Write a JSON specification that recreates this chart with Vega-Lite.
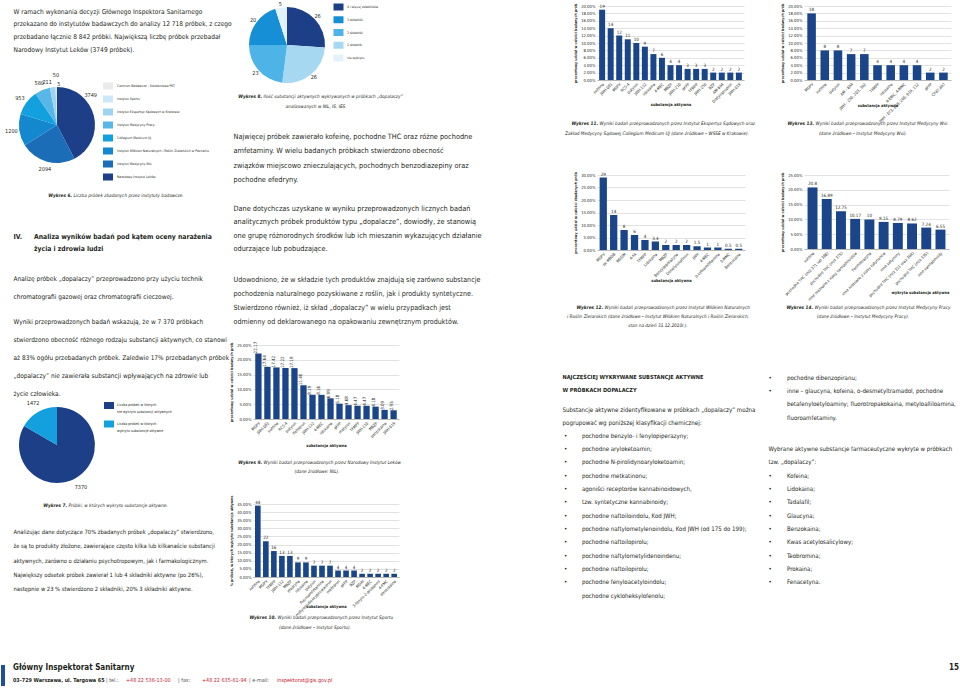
{
"$schema":"https://vega.github.io/schema/vega-lite/v6.json",
"padding":0,
"background":"white",
"columns":8,
"align":"each",
"bounds":"flush",
"spacing":0,
"resolve":{"scale":{"color":"independent","x":"independent","y":"independent","theta":"independent"},"legend":{"color":"independent"}},
"config":{
 "view":{"stroke":null},
 "font":"'DejaVu Sans Condensed', 'Liberation Sans Narrow', sans-serif",
 "text":{"color":"#231f20"},
 "axis":{"labelColor":"#231f20","titleColor":"#231f20","gridColor":"#c4c4c4","gridWidth":0.5,"domainColor":"#8c8c8c","domainWidth":0.5,"ticks":false,"labelFontSize":4.2,"titleFontSize":4,"titleFontWeight":"bold","labelPadding":2},
 "axisX":{"labelFontSize":4},
 "axisY":{"titleFontSize":3.6,"titlePadding":3}
},
"concat":[
{"width":12,"height":6,"data":{"values":[]},"mark":"point","encoding":{}},
{"width":220,"height":6,"data":{"values":[]},"mark":"point","encoding":{}},
{"width":20,"height":6,"data":{"values":[]},"mark":"point","encoding":{}},
{"width":309,"height":6,"data":{"values":[]},"mark":"point","encoding":{}},
{"width":35,"height":6,"data":{"values":[]},"mark":"point","encoding":{}},
{"width":171,"height":6,"data":{"values":[]},"mark":"point","encoding":{}},
{"width":36,"height":6,"data":{"values":[]},"mark":"point","encoding":{}},
{"width":157,"height":6,"data":{"values":[]},"mark":"point","encoding":{}},

{"width":1,"height":78,"data":{"values":[]},"mark":"point","encoding":{}},
{"width":1,"height":1,"data":{"values":[{"t":"W ramach wykonania decyzji Głównego Inspektora Sanitarnego\nprzekazano do instytutów badawczych do analizy 12 718 próbek, z czego\nprzebadano łącznie 8 842 próbki. Największą liczbę próbek przebadał\nNarodowy Instytut Leków (3749 próbek)."}]},
 "mark":{"type":"text","align":"left","baseline":"top","lineBreak":"\n","lineHeight":12.7,"fontSize":6.6,"dy":2.3},
 "encoding":{"text":{"field":"t"}}},
{"width":1,"height":1,"data":{"values":[]},"mark":"point","encoding":{}},
{"width":68,"height":78,
 "data":{"values":[{"k":"4 i więcej składników","n":26,"o":1},{"k":"1 składnik","n":26,"o":2},{"k":"2 składniki","n":23,"o":3},{"k":"3 składniki","n":20,"o":4},{"k":"nie wykryto","n":5,"o":5}]},
 "layer":[
  {"mark":{"type":"arc","radius":38},"encoding":{"theta":{"field":"n","type":"quantitative","stack":true},"order":{"field":"o","type":"quantitative"},"color":{"field":"k","type":"nominal","scale":{"domain":["4 i więcej składników","3 składniki","2 składniki","1 składnik","nie wykryto"],"range":["#1d3f88","#178fd6","#4eb3e6","#a7d8f2","#e3f2fa"]},"legend":null}}},
  {"mark":{"type":"text","radius":42,"fontSize":5.5},"encoding":{"theta":{"field":"n","type":"quantitative","stack":true},"order":{"field":"o","type":"quantitative"},"text":{"field":"n","type":"quantitative"}}},
  {"mark":{"type":"point","shape":"M-1,-0.7H1V0.7H-1Z","size":100,"filled":true,"opacity":1,"xOffset":51.5},"encoding":{"y":{"field":"k","type":"nominal","scale":{"type":"point","padding":0,"domain":["4 i więcej składników","3 składniki","2 składniki","1 składnik","nie wykryto"],"range":[1,52]},"axis":null},"color":{"field":"k","type":"nominal","legend":null}}},
  {"mark":{"type":"text","align":"left","baseline":"middle","fontSize":3.3,"dx":60},"encoding":{"y":{"field":"k","type":"nominal","axis":null},"text":{"field":"k"}}}
 ]},
{"width":1,"height":1,"data":{"values":[]},"mark":"point","encoding":{}},
{"width":147,"height":74,
 "data":{"values":[{"s":"kofeina","v":19},{"s":"JWH-081","v":14},{"s":"MDPV","v":12},{"s":"RCS-4","v":11},{"s":"butylon","v":10},{"s":"JWH-122","v":9},{"s":"lidokaina","v":7},{"s":"4-MEC","v":6},{"s":"MBZP","v":4},{"s":"JWH-210","v":4},{"s":"pFPP","v":3},{"s":"TFMPP","v":3},{"s":"JWH-250","v":3},{"s":"BZP","v":2},{"s":"AM-694","v":2},{"s":"Dietylopropion","v":2},{"s":"JWH-019","v":2}]},
 "encoding":{
  "x":{"field":"s","type":"nominal","sort":null,"title":"substancja aktywna","scale":{"paddingInner":0.3,"paddingOuter":0.25},"axis":{"labelAngle":-45,"titleY":22}},
  "y":{"field":"v","type":"quantitative","title":"procentowy udział w całości badanych prób","scale":{"domain":[0,20]},"axis":{"values":[0,2,4,6,8,10,12,14,16,18,20],"labelExpr":"format(datum.value,'.2f')+'%'","domain":false}}},
 "layer":[{"mark":{"type":"bar","color":"#1b4589"}},{"mark":{"type":"text","baseline":"bottom","dy":-1,"fontSize":4.5},"encoding":{"text":{"field":"v","type":"quantitative"}}}]},
{"width":1,"height":1,"data":{"values":[]},"mark":"point","encoding":{}},
{"width":147,"height":74,
 "data":{"values":[{"s":"MDPV","v":18},{"s":"kofeina","v":8},{"s":"butylon","v":8},{"s":"AM - 694","v":7},{"s":"JWH - 250, 203, 302","v":7},{"s":"TFMPP","v":4},{"s":"lidokaina","v":4},{"s":"4-EMC, 4-MMC","v":4},{"s":"JWH - 073, 018, 200, 019, 122","v":4},{"s":"pFPP","v":2},{"s":"CP47,497","v":2}]},
 "encoding":{
  "x":{"field":"s","type":"nominal","sort":null,"title":"substancja aktywna","scale":{"paddingInner":0.35,"paddingOuter":0.25},"axis":{"labelAngle":-45,"titleY":23}},
  "y":{"field":"v","type":"quantitative","title":"procentowy udział w całości badanych prób","scale":{"domain":[0,20]},"axis":{"values":[0,2,4,6,8,10,12,14,16,18,20],"labelExpr":"format(datum.value,'.2f')+'%'","domain":false}}},
 "layer":[{"mark":{"type":"bar","color":"#1b4589"}},{"mark":{"type":"text","baseline":"bottom","dy":-1,"fontSize":4.5},"encoding":{"text":{"field":"v","type":"quantitative"}}}]},

{"width":1,"height":91,"data":{"values":[]},"mark":"point","encoding":{}},
{"width":88,"height":82,
 "data":{"values":[{"k":"Narodowy Instytut Leków","n":3749,"o":1},{"k":"Instytut Medycyny Wsi","n":2094,"o":2},{"k":"Instytut Włókien Naturalnych i Roślin Zielarskich w Poznaniu","n":1200,"o":3},{"k":"Collegium Medicum UJ","n":953,"o":4},{"k":"Instytut Medycyny Pracy","n":580,"o":5},{"k":"Instytut Ekspertyz Sądowych w Krakowie","n":211,"o":6},{"k":"Instytut Sportu","n":50,"o":7},{"k":"Centrum Badawczo - Szkoleniowe PKT","n":5,"o":8}]},
 "layer":[
  {"mark":{"type":"arc","radius":38},"encoding":{"theta":{"field":"n","type":"quantitative","stack":true},"order":{"field":"o","type":"quantitative"},"color":{"field":"k","type":"nominal","scale":{"domain":["Centrum Badawczo - Szkoleniowe PKT","Instytut Sportu","Instytut Ekspertyz Sądowych w Krakowie","Instytut Medycyny Pracy","Collegium Medicum UJ","Instytut Włókien Naturalnych i Roślin Zielarskich w Poznaniu","Instytut Medycyny Wsi","Narodowy Instytut Leków"],"range":["#ebebeb","#cde8f6","#9dd4f1","#58b7e6","#13a0de","#1488cf","#1a6db6","#1d3f88"]},"legend":null}}},
  {"mark":{"type":"text","radius":46,"fontSize":5.5},"encoding":{"theta":{"field":"n","type":"quantitative","stack":true},"order":{"field":"o","type":"quantitative"},"text":{"condition":{"test":"datum.o>=2 && datum.o<=5","field":"n","type":"quantitative"},"value":""}}},
  {"mark":{"type":"text","radius":46,"fontSize":5.5,"dx":-11,"dy":-19},"encoding":{"theta":{"field":"n","type":"quantitative","stack":true},"order":{"field":"o","type":"quantitative"},"text":{"condition":{"test":"datum.o==1","field":"n","type":"quantitative"},"value":""}}},
  {"mark":{"type":"text","radius":43,"fontSize":5.5,"dx":-5},"encoding":{"theta":{"field":"n","type":"quantitative","stack":true},"order":{"field":"o","type":"quantitative"},"text":{"condition":{"test":"datum.o==6","field":"n","type":"quantitative"},"value":""}}},
  {"mark":{"type":"text","radius":50,"fontSize":5.5},"encoding":{"theta":{"field":"n","type":"quantitative","stack":true},"order":{"field":"o","type":"quantitative"},"text":{"condition":{"test":"datum.o==7","field":"n","type":"quantitative"},"value":""}}},
  {"mark":{"type":"text","radius":41,"fontSize":5.5,"dx":2},"encoding":{"theta":{"field":"n","type":"quantitative","stack":true},"order":{"field":"o","type":"quantitative"},"text":{"condition":{"test":"datum.o==8","field":"n","type":"quantitative"},"value":""}}},
  {"mark":{"type":"point","shape":"M-1,-0.7H1V0.7H-1Z","size":100,"filled":true,"opacity":1,"xOffset":51},"encoding":{"y":{"field":"k","type":"nominal","scale":{"type":"point","padding":0,"domain":["Centrum Badawczo - Szkoleniowe PKT","Instytut Sportu","Instytut Ekspertyz Sądowych w Krakowie","Instytut Medycyny Pracy","Collegium Medicum UJ","Instytut Włókien Naturalnych i Roślin Zielarskich w Poznaniu","Instytut Medycyny Wsi","Narodowy Instytut Leków"],"range":[2,93]},"axis":null},"color":{"field":"k","type":"nominal","legend":null}}},
  {"mark":{"type":"text","align":"left","baseline":"middle","fontSize":3.4,"dx":60},"encoding":{"y":{"field":"k","type":"nominal","axis":null},"text":{"field":"k"}}}
 ]},
{"width":1,"height":1,
 "layer":[
  {"data":{"values":[{"t":"Najwięcej próbek zawierało kofeinę, pochodne THC oraz różne pochodne\namfetaminy. W wielu badanych próbkach stwierdzono obecność\nzwiązków miejscowo znieczulających, pochodnych benzodiazepiny oraz\npochodne efedryny."}]},"mark":{"type":"text","align":"left","baseline":"top","lineBreak":"\n","lineHeight":14.3,"fontSize":7.3,"dy":48.5},"encoding":{"text":{"field":"t"}}},
  {"data":{"values":[{"t":"Dane dotychczas uzyskane w wyniku przeprowadzonych licznych badań\nanalitycznych próbek produktów typu „dopalacze”, dowiodły, że stanowią\none grupę różnorodnych środków lub ich mieszanin wykazujących działanie\nodurzające lub pobudzające."}]},"mark":{"type":"text","align":"left","baseline":"top","lineBreak":"\n","lineHeight":13.3,"fontSize":7.3,"dy":120.5},"encoding":{"text":{"field":"t"}}},
  {"data":{"values":[{"t":"Udowodniono, że w składzie tych produktów znajdują się zarówno substancje\npochodzenia naturalnego pozyskiwane z roślin, jak i produkty syntetyczne.\nStwierdzono również, iż skład „dopalaczy” w wielu przypadkach jest\nodmienny od deklarowanego na opakowaniu zewnętrznym produktów."}]},"mark":{"type":"text","align":"left","baseline":"top","lineBreak":"\n","lineHeight":14,"fontSize":7.1,"dy":191.5},"encoding":{"text":{"field":"t"}}}
 ]},
{"width":1,"height":1,
 "layer":[
  {"data":{"values":[{"t":"Wykres 8."}]},"mark":{"type":"text","align":"right","baseline":"top","fontSize":4.7,"fontStyle":"italic","fontWeight":"bold","dx":8.5,"dy":9},"encoding":{"text":{"field":"t"}}},
  {"data":{"values":[{"t":"Ilość substancji aktywnych wykrywanych w próbkach „dopalaczy”"}]},"mark":{"type":"text","align":"left","baseline":"top","fontSize":4.7,"fontStyle":"italic","dx":10,"dy":9},"encoding":{"text":{"field":"t"}}},
  {"data":{"values":[{"t":"analizowanych w NIL, IS, IES."}]},"mark":{"type":"text","align":"center","baseline":"top","fontSize":4.7,"fontStyle":"italic","dx":62.5,"dy":19},"encoding":{"text":{"field":"t"}}}
 ]},
{"width":1,"height":1,"data":{"values":[]},"mark":"point","encoding":{}},
{"width":1,"height":1,
 "layer":[
  {"data":{"values":[{"t":"Wykres 11."}]},"mark":{"type":"text","align":"right","baseline":"top","fontSize":4.7,"fontStyle":"italic","fontWeight":"bold","dx":0.5,"dy":36},"encoding":{"text":{"field":"t"}}},
  {"data":{"values":[{"t":"Wyniki badań przeprowadzonych przez Instytut Ekspertyz Sądowych oraz"}]},"mark":{"type":"text","align":"left","baseline":"top","fontSize":4.7,"fontStyle":"italic","dx":2,"dy":36},"encoding":{"text":{"field":"t"}}},
  {"data":{"values":[{"t":"Zakład Medycyny Sądowej Collegium Medicum UJ (dane źródłowe – WSSE w Krakowie)."}]},"mark":{"type":"text","align":"center","baseline":"top","fontSize":4.7,"fontStyle":"italic","dx":59.5,"dy":46},"encoding":{"text":{"field":"t"}}}
 ]},
{"width":1,"height":1,"data":{"values":[]},"mark":"point","encoding":{}},
{"width":1,"height":1,
 "layer":[
  {"data":{"values":[{"t":"Wykres 13."}]},"mark":{"type":"text","align":"right","baseline":"top","fontSize":4.7,"fontStyle":"italic","fontWeight":"bold","dx":9.5,"dy":36},"encoding":{"text":{"field":"t"}}},
  {"data":{"values":[{"t":"Wyniki badań przeprowadzonych przez Instytut Medycyny Wsi"}]},"mark":{"type":"text","align":"left","baseline":"top","fontSize":4.7,"fontStyle":"italic","dx":11,"dy":36},"encoding":{"text":{"field":"t"}}},
  {"data":{"values":[{"t":"(dane źródłowe – Instytut Medycyny Wsi)."}]},"mark":{"type":"text","align":"center","baseline":"top","fontSize":4.7,"fontStyle":"italic","dx":58.5,"dy":46},"encoding":{"text":{"field":"t"}}}
 ]},

{"width":1,"height":75,"data":{"values":[]},"mark":"point","encoding":{}},
{"width":1,"height":1,
 "layer":[
  {"data":{"values":[{"t":"Wykres 6."}]},"mark":{"type":"text","align":"right","baseline":"top","fontSize":4.7,"fontStyle":"italic","fontWeight":"bold","dx":58.5,"dy":17},"encoding":{"text":{"field":"t"}}},
  {"data":{"values":[{"t":"Liczba próbek zbadanych przez instytuty badawcze."}]},"mark":{"type":"text","align":"left","baseline":"top","fontSize":4.7,"fontStyle":"italic","dx":60,"dy":17},"encoding":{"text":{"field":"t"}}},
  {"data":{"values":[{"t":"IV."}]},"mark":{"type":"text","align":"left","baseline":"top","fontSize":6.8,"fontWeight":"bold","dy":58},"encoding":{"text":{"field":"t"}}},
  {"data":{"values":[{"t":"Analiza wyników badań pod kątem oceny narażenia\nżycia i zdrowia ludzi"}]},"mark":{"type":"text","align":"left","baseline":"top","fontSize":6.8,"fontWeight":"bold","lineBreak":"\n","lineHeight":12.5,"dx":20.5,"dy":58},"encoding":{"text":{"field":"t"}}},
  {"data":{"values":[{"t":"Analizę próbek „dopalaczy” przeprowadzono przy użyciu technik\nchromatografii gazowej oraz chromatografii cieczowej."}]},"mark":{"type":"text","align":"left","baseline":"top","lineBreak":"\n","lineHeight":18,"fontSize":6.5,"dy":100.2},"encoding":{"text":{"field":"t"}}},
  {"data":{"values":[{"t":"Wyniki przeprowadzonych badań wskazują, że w 7 370 próbkach\nstwierdzono obecność różnego rodzaju substancji aktywnych, co stanowi\naż 83% ogółu przebadanych próbek. Zaledwie 17% przebadanych próbek\n„dopalaczy” nie zawierała substancji wpływających na zdrowie lub\nżycie człowieka."}]},"mark":{"type":"text","align":"left","baseline":"top","lineBreak":"\n","lineHeight":18,"fontSize":6.5,"dy":143.2},"encoding":{"text":{"field":"t"}}}
 ]},
{"width":1,"height":1,"data":{"values":[]},"mark":"point","encoding":{}},
{"width":1,"height":1,"data":{"values":[]},"mark":"point","encoding":{}},
{"width":1,"height":1,"data":{"values":[]},"mark":"point","encoding":{}},
{"width":148,"height":75,
 "data":{"values":[{"s":"MDPV","v":29},{"s":"bk-MBDB","v":14},{"s":"MDDM","v":8},{"s":"4-FA","v":6},{"s":"TFMPP","v":4},{"s":"Lidokaina","v":3.4},{"s":"MBZP","v":2},{"s":"Benzylpiperazyna","v":2},{"s":"Dimetylokatinon","v":2},{"s":"JWH","v":1.5},{"s":"4-MEC","v":1},{"s":"b-ketoamfetamina","v":1},{"s":"3-MMC","v":0.5},{"s":"Benzokaina","v":0.5}]},
 "encoding":{
  "x":{"field":"s","type":"nominal","sort":null,"title":"substancja aktywna","scale":{"paddingInner":0.3,"paddingOuter":0.25},"axis":{"labelAngle":-45,"titleY":28}},
  "y":{"field":"v","type":"quantitative","title":"procentowy udział w całości zbadanych prób","scale":{"domain":[0,30]},"axis":{"values":[0,5,10,15,20,25,30],"labelExpr":"format(datum.value,'.2f')+'%'","domain":false}}},
 "layer":[{"mark":{"type":"bar","color":"#1b4589"}},{"mark":{"type":"text","baseline":"bottom","dy":-1,"fontSize":4.5},"encoding":{"text":{"field":"v","type":"quantitative"}}}]},
{"width":1,"height":1,"data":{"values":[]},"mark":"point","encoding":{}},
{"width":145,"height":74,
 "data":{"values":[{"s":"kofeina","v":20.8},{"s":"pochodne THC (m/z 371 lub 386)","v":16.89},{"s":"pochodne THC (m/z 375)","v":12.75},{"s":"inne nieznane z klasy kannabinoidów","v":10.17},{"s":"Fenmetrazyna","v":10},{"s":"inne nieznane z klasy katynonów","v":9.15},{"s":"inne katynony","v":8.79},{"s":"pochodne THC (m/z 321 oraz 304)","v":8.62},{"s":"pochodne THC (m/z 335)","v":7.24},{"s":"inne kannabinoidy","v":6.55}]},
 "encoding":{
  "x":{"field":"s","type":"nominal","sort":null,"title":"wykryta substancja aktywna","scale":{"paddingInner":0.3,"paddingOuter":0.25},"axis":{"labelAngle":-45,"titleY":41,"titleAnchor":"end"}},
  "y":{"field":"v","type":"quantitative","title":"procentowy udział w całości badanych prób","scale":{"domain":[0,25]},"axis":{"values":[0,5,10,15,20,25],"labelExpr":"format(datum.value,'.2f')+'%'","domain":false}}},
 "layer":[{"mark":{"type":"bar","color":"#1b4589"}},{"mark":{"type":"text","baseline":"bottom","dy":-1,"fontSize":4.5},"encoding":{"text":{"field":"v","type":"quantitative"}}}]},

{"width":1,"height":95,"data":{"values":[]},"mark":"point","encoding":{}},
{"width":1,"height":1,"data":{"values":[]},"mark":"point","encoding":{}},
{"width":1,"height":1,"data":{"values":[]},"mark":"point","encoding":{}},
{"width":1,"height":1,"data":{"values":[]},"mark":"point","encoding":{}},
{"width":1,"height":1,
 "layer":[
  {"data":{"values":[{"t":"NAJCZĘŚCIEJ WYKRYWANE SUBSTANCJE AKTYWNE\nW PRÓBKACH DOPALACZY"}]},"mark":{"type":"text","align":"left","baseline":"top","fontSize":5.6,"fontWeight":"bold","lineBreak":"\n","lineHeight":13.3,"dy":124.5},"encoding":{"text":{"field":"t"}}},
  {"data":{"values":[{"t":"Substancje aktywne zidentyfikowane w próbkach „dopalaczy” można\npogrupować wg poniższej klasyfikacji chemicznej:"}]},"mark":{"type":"text","align":"left","baseline":"top","fontSize":6.2,"lineBreak":"\n","lineHeight":13.5,"dy":156.3},"encoding":{"text":{"field":"t"}}},
  {"data":{"values":[{"t":"•\n•\n•\n•\n•\n \n•\n•\n•\n•\n•\n•\n•"}]},"mark":{"type":"text","align":"left","baseline":"top","fontSize":6.2,"lineBreak":"\n","lineHeight":13.33,"dx":1.5,"dy":182.3},"encoding":{"text":{"field":"t"}}},
  {"data":{"values":[{"t":"pochodne benzylo- i fenylopiperazyny;\npochodne aryloketoamin;\npochodne N-pirolidynoaryloketoamin;\npochodne metkatinonu;\nagoniści receptorów kannabinoidowych,\ntzw. syntetyczne kannabinoidy;\npochodne naftoiloindolu, Kod JWH;\npochodne naftylometylenoindolu, Kod JWH (od 175 do 199);\npochodne naftoilopirolu;\npochodne naftylometylidenoindenu;\npochodne naftoilopirolu;\npochodne fenyloacetyloindolu;\npochodne cykloheksylofenolu;"}]},"mark":{"type":"text","align":"left","baseline":"top","fontSize":6.1,"lineBreak":"\n","lineHeight":13.33,"dx":19.5,"dy":182.3},"encoding":{"text":{"field":"t"}}}
 ]},
{"width":1,"height":1,
 "layer":[
  {"data":{"values":[{"t":"Wykres 12."}]},"mark":{"type":"text","align":"right","baseline":"top","fontSize":4.7,"fontStyle":"italic","fontWeight":"bold","dx":5.5,"dy":54},"encoding":{"text":{"field":"t"}}},
  {"data":{"values":[{"t":"Wyniki badań przeprowadzonych przez Instytut Włókien Naturalnych"}]},"mark":{"type":"text","align":"left","baseline":"top","fontSize":4.7,"fontStyle":"italic","dx":7,"dy":54},"encoding":{"text":{"field":"t"}}},
  {"data":{"values":[{"t":"i Roślin Zielarskich (dane źródłowe – Instytut Włókien Naturalnych i Roślin Zielarskich,\nstan na dzień 31.12.2010r.)."}]},"mark":{"type":"text","align":"center","baseline":"top","fontSize":4.7,"fontStyle":"italic","lineBreak":"\n","lineHeight":9,"dx":60.5,"dy":63},"encoding":{"text":{"field":"t"}}}
 ]},
{"width":1,"height":1,
 "layer":[
  {"data":{"values":[{"t":"•\n•"}]},"mark":{"type":"text","align":"left","baseline":"top","fontSize":6.1,"lineBreak":"\n","lineHeight":13.3,"dy":124.4},"encoding":{"text":{"field":"t"}}},
  {"data":{"values":[{"t":"pochodne dibenzopiranu;\ninne – glaucyna, kofeina, o-desmetyltramadol, pochodne\nbetafenyloetyloaminy; fluorotropakokaina, metyloalliloamina,\nfluoroamfetaminy."}]},"mark":{"type":"text","align":"left","baseline":"top","fontSize":6.1,"lineBreak":"\n","lineHeight":13.3,"dx":18.5,"dy":124.4},"encoding":{"text":{"field":"t"}}},
  {"data":{"values":[{"t":"Wybrane aktywne substancje farmaceutyczne wykryte w próbkach\ntzw. „dopalaczy”:"}]},"mark":{"type":"text","align":"left","baseline":"top","fontSize":6.1,"lineBreak":"\n","lineHeight":13.3,"dy":195.4},"encoding":{"text":{"field":"t"}}},
  {"data":{"values":[{"t":"•\n•\n•\n•\n•\n•\n•\n•\n•"}]},"mark":{"type":"text","align":"left","baseline":"top","fontSize":6.1,"lineBreak":"\n","lineHeight":13.3,"dy":222.4},"encoding":{"text":{"field":"t"}}},
  {"data":{"values":[{"t":"Kofeina;\nLidokaina;\nTadalafil;\nGlaucyna;\nBenzokaina;\nKwas acetylosalicylowy;\nTeobromina;\nProkaina;\nFenacetyna."}]},"mark":{"type":"text","align":"left","baseline":"top","fontSize":6.1,"lineBreak":"\n","lineHeight":13.3,"dx":18.5,"dy":222.4},"encoding":{"text":{"field":"t"}}}
 ]},
{"width":1,"height":1,
 "layer":[
  {"data":{"values":[{"t":"Wykres 14."}]},"mark":{"type":"text","align":"right","baseline":"top","fontSize":4.7,"fontStyle":"italic","fontWeight":"bold","dx":8.5,"dy":54},"encoding":{"text":{"field":"t"}}},
  {"data":{"values":[{"t":"Wyniki badań przeprowadzonych przez Instytut Medycyny Pracy"}]},"mark":{"type":"text","align":"left","baseline":"top","fontSize":4.7,"fontStyle":"italic","dx":10,"dy":54},"encoding":{"text":{"field":"t"}}},
  {"data":{"values":[{"t":"(dane źródłowe – Instytut Medycyny Pracy)."}]},"mark":{"type":"text","align":"center","baseline":"top","fontSize":4.7,"fontStyle":"italic","dx":58.5,"dy":63},"encoding":{"text":{"field":"t"}}}
 ]},

{"width":1,"height":74,"data":{"values":[]},"mark":"point","encoding":{}},
{"width":1,"height":1,"data":{"values":[]},"mark":"point","encoding":{}},
{"width":1,"height":1,"data":{"values":[]},"mark":"point","encoding":{}},
{"width":146,"height":74,
 "data":{"values":[{"s":"MDPV","v":22.17},{"s":"JWH-081","v":17.64},{"s":"kofeina","v":17.42},{"s":"RCS-4","v":17.22},{"s":"butylon","v":17.19},{"s":"flefedron","v":11.40},{"s":"JWH-122","v":8.19},{"s":"4-MEC","v":8.16},{"s":"lidokaina","v":6.99},{"s":"pFPP","v":5.18},{"s":"metylon","v":4.68},{"s":"TFMPP","v":4.47},{"s":"JWH-210","v":4.47},{"s":"MBZP","v":4.18},{"s":"benzokaina","v":3.09},{"s":"JWH-019","v":2.95}]},
 "encoding":{
  "x":{"field":"s","type":"nominal","sort":null,"title":"substancja aktywna","scale":{"paddingInner":0.3,"paddingOuter":0.25},"axis":{"labelAngle":-45,"titleY":24}},
  "y":{"field":"v","type":"quantitative","title":"procentowy udział w całości badanych prób","scale":{"domain":[0,25]},"axis":{"values":[0,5,10,15,20,25],"labelExpr":"format(datum.value,'.2f')+'%'","domain":false}}},
 "layer":[{"mark":{"type":"bar","color":"#1b4589"}},{"mark":{"type":"text","align":"left","baseline":"middle","angle":270,"dy":-2,"fontSize":4.5},"encoding":{"text":{"field":"v","type":"quantitative","format":".2f"}}}]},
{"width":1,"height":1,"data":{"values":[]},"mark":"point","encoding":{}},
{"width":1,"height":1,"data":{"values":[]},"mark":"point","encoding":{}},
{"width":1,"height":1,"data":{"values":[]},"mark":"point","encoding":{}},
{"width":1,"height":1,"data":{"values":[]},"mark":"point","encoding":{}},

{"width":1,"height":85,"data":{"values":[]},"mark":"point","encoding":{}},
{"width":88,"height":52,
 "data":{"values":[{"k":"Liczba próbek w których\nnie wykryto substancji aktywnych","n":7370,"o":1},{"k":"Liczba próbek w których\nwykryto substancje aktywne","n":1472,"o":2}]},
 "layer":[
  {"mark":{"type":"arc","radius":38},"encoding":{"theta":{"field":"n","type":"quantitative","stack":true},"order":{"field":"o","type":"quantitative"},"color":{"field":"k","type":"nominal","scale":{"domain":["Liczba próbek w których\nnie wykryto substancji aktywnych","Liczba próbek w których\nwykryto substancje aktywne"],"range":["#1d3f88","#14a0de"]},"legend":null}}},
  {"mark":{"type":"text","radius":48,"fontSize":5.5},"encoding":{"theta":{"field":"n","type":"quantitative","stack":true},"order":{"field":"o","type":"quantitative"},"text":{"field":"n","type":"quantitative"}}},
  {"mark":{"type":"point","shape":"M-1,-0.7H1V0.7H-1Z","size":100,"filled":true,"opacity":1,"xOffset":52},"encoding":{"y":{"field":"k","type":"nominal","scale":{"type":"point","padding":0,"domain":["Liczba próbek w których\nnie wykryto substancji aktywnych","Liczba próbek w których\nwykryto substancje aktywne"],"range":[-13.5,5]},"axis":null},"color":{"field":"k","type":"nominal","legend":null}}},
  {"mark":{"type":"text","align":"left","baseline":"top","fontSize":3.6,"lineBreak":"\n","lineHeight":7,"dx":60,"dy":-2.5},"encoding":{"y":{"field":"k","type":"nominal","axis":null},"text":{"field":"k"}}}
 ]},
{"width":1,"height":1,"data":{"values":[]},"mark":"point","encoding":{}},
{"width":1,"height":1,
 "layer":[
  {"data":{"values":[{"t":"Wykres 9."}]},"mark":{"type":"text","align":"right","baseline":"top","fontSize":4.7,"fontStyle":"italic","fontWeight":"bold","dx":8.5,"dy":40},"encoding":{"text":{"field":"t"}}},
  {"data":{"values":[{"t":"Wyniki badań przeprowadzonych przez Narodowy Instytut Leków"}]},"mark":{"type":"text","align":"left","baseline":"top","fontSize":4.7,"fontStyle":"italic","dx":10,"dy":40},"encoding":{"text":{"field":"t"}}},
  {"data":{"values":[{"t":"(dane źródłowe: NIL)."}]},"mark":{"type":"text","align":"center","baseline":"top","fontSize":4.7,"fontStyle":"italic","dx":63.5,"dy":49},"encoding":{"text":{"field":"t"}}}
 ]},
{"width":1,"height":1,"data":{"values":[]},"mark":"point","encoding":{}},
{"width":1,"height":1,"data":{"values":[]},"mark":"point","encoding":{}},
{"width":1,"height":1,"data":{"values":[]},"mark":"point","encoding":{}},
{"width":1,"height":1,"data":{"values":[]},"mark":"point","encoding":{}},

{"width":1,"height":73,"data":{"values":[]},"mark":"point","encoding":{}},
{"width":1,"height":1,
 "layer":[
  {"data":{"values":[{"t":"Wykres 7."}]},"mark":{"type":"text","align":"right","baseline":"top","fontSize":4.7,"fontStyle":"italic","fontWeight":"bold","dx":53.5,"dy":-2},"encoding":{"text":{"field":"t"}}},
  {"data":{"values":[{"t":"Próbki, w których wykryto substancje aktywne."}]},"mark":{"type":"text","align":"left","baseline":"top","fontSize":4.7,"fontStyle":"italic","dx":55,"dy":-2},"encoding":{"text":{"field":"t"}}},
  {"data":{"values":[{"t":"Analizując dane dotyczące 70% zbadanych próbek „dopalaczy” stwierdzono,\nże są to produkty złożone, zawierające często kilka lub kilkanaście substancji\naktywnych, zarówno o działaniu psychotropowym, jak i farmakologicznym.\nNajwiększy odsetek próbek zawierał 1 lub 4 składniki aktywne (po 26%),\nnastępnie w 23 % stwierdzono 2 składniki, 20% 3 składniki aktywne."}]},"mark":{"type":"text","align":"left","baseline":"top","lineBreak":"\n","lineHeight":14.25,"fontSize":5.8,"dy":24.5},"encoding":{"text":{"field":"t"}}}
 ]},
{"width":1,"height":1,"data":{"values":[]},"mark":"point","encoding":{}},
{"width":146,"height":73,
 "data":{"values":[{"s":"kofeina","v":44},{"s":"MDPV","v":22},{"s":"TFMPP","v":16},{"s":"JWH-122","v":13},{"s":"MBZP","v":13},{"s":"efedryna","v":9},{"s":"lidokaina","v":9},{"s":"butylon","v":7},{"s":"fluoroamfetamina","v":7},{"s":"metylenodioksypirowaleron","v":7},{"s":"mefedron","v":4},{"s":"pFPP","v":4},{"s":"BZP","v":4},{"s":"MDAI","v":2},{"s":"4-MEC","v":2},{"s":"3-fenylo-2-propanon","v":2},{"s":"4-FMC","v":2},{"s":"benzokaina","v":2}]},
 "encoding":{
  "x":{"field":"s","type":"nominal","sort":null,"title":"substancja aktywna","scale":{"paddingInner":0.3,"paddingOuter":0.25},"axis":{"labelAngle":-45,"titleY":27}},
  "y":{"field":"v","type":"quantitative","title":"% próbek, w których wykryto substancje aktywne","scale":{"domain":[0,45]},"axis":{"values":[0,5,10,15,20,25,30,35,40,45],"labelExpr":"format(datum.value,'.2f')+'%'","domain":false}}},
 "layer":[{"mark":{"type":"bar","color":"#1b4589"}},{"mark":{"type":"text","baseline":"bottom","dy":-1,"fontSize":4.5},"encoding":{"text":{"field":"v","type":"quantitative"}}}]},
{"width":1,"height":1,"data":{"values":[]},"mark":"point","encoding":{}},
{"width":1,"height":1,"data":{"values":[]},"mark":"point","encoding":{}},
{"width":1,"height":1,"data":{"values":[]},"mark":"point","encoding":{}},
{"width":1,"height":1,"data":{"values":[]},"mark":"point","encoding":{}},

{"width":1,"height":88,"data":{"values":[]},"mark":"point","encoding":{}},
{"width":1,"height":1,"data":{"values":[]},"mark":"point","encoding":{}},
{"width":1,"height":1,"data":{"values":[]},"mark":"point","encoding":{}},
{"width":1,"height":1,
 "layer":[
  {"data":{"values":[{"t":"Wykres 10."}]},"mark":{"type":"text","align":"right","baseline":"top","fontSize":4.7,"fontStyle":"italic","fontWeight":"bold","dx":22.5,"dy":37},"encoding":{"text":{"field":"t"}}},
  {"data":{"values":[{"t":"Wyniki badań przeprowadzonych przez Instytut Sportu"}]},"mark":{"type":"text","align":"left","baseline":"top","fontSize":4.7,"fontStyle":"italic","dx":24,"dy":37},"encoding":{"text":{"field":"t"}}},
  {"data":{"values":[{"t":"(dane źródłowe – Instytut Sportu)."}]},"mark":{"type":"text","align":"center","baseline":"top","fontSize":4.7,"fontStyle":"italic","dx":61.5,"dy":47},"encoding":{"text":{"field":"t"}}}
 ]},
{"width":1,"height":1,"data":{"values":[]},"mark":"point","encoding":{}},
{"width":1,"height":1,"data":{"values":[]},"mark":"point","encoding":{}},
{"width":1,"height":1,"data":{"values":[]},"mark":"point","encoding":{}},
{"width":1,"height":1,"data":{"values":[]},"mark":"point","encoding":{}},

{"width":4,"height":21,
 "layer":[
  {"data":{"values":[{"k":"bar"}]},"mark":{"type":"rect","color":"#1f4f97"},"encoding":{}},
  {"data":{"values":[{"t":"Główny Inspektorat Sanitarny"}]},"mark":{"type":"text","align":"left","baseline":"middle","fontSize":8,"fontWeight":"bold","dx":10,"dy":-7.5},"encoding":{"text":{"field":"t"}}},
  {"data":{"values":[{"t":"03-729 Warszawa, ul. Targowa 65"}]},"mark":{"type":"text","align":"left","baseline":"middle","fontSize":5.4,"fontWeight":"bold","dx":10,"dy":4.5},"encoding":{"text":{"field":"t"}}},
  {"data":{"values":[{"t":"|  tel.:"}]},"mark":{"type":"text","align":"left","baseline":"middle","fontSize":5.4,"color":"#555555","dx":103,"dy":4.5},"encoding":{"text":{"field":"t"}}},
  {"data":{"values":[{"t":"+48 22 536-13-00"}]},"mark":{"type":"text","align":"left","baseline":"middle","fontSize":5.4,"color":"#c8202f","dx":123,"dy":4.5},"encoding":{"text":{"field":"t"}}},
  {"data":{"values":[{"t":"|  fax:"}]},"mark":{"type":"text","align":"left","baseline":"middle","fontSize":5.4,"color":"#555555","dx":175,"dy":4.5},"encoding":{"text":{"field":"t"}}},
  {"data":{"values":[{"t":"+48 22 635-61-94"}]},"mark":{"type":"text","align":"left","baseline":"middle","fontSize":5.4,"color":"#c8202f","dx":199,"dy":4.5},"encoding":{"text":{"field":"t"}}},
  {"data":{"values":[{"t":"|  e-mail:"}]},"mark":{"type":"text","align":"left","baseline":"middle","fontSize":5.4,"color":"#555555","dx":246,"dy":4.5},"encoding":{"text":{"field":"t"}}},
  {"data":{"values":[{"t":"inspektorat@gis.gov.pl"}]},"mark":{"type":"text","align":"left","baseline":"middle","fontSize":5.4,"color":"#c8202f","dx":274,"dy":4.5},"encoding":{"text":{"field":"t"}}}
 ]},
{"width":1,"height":1,"data":{"values":[]},"mark":"point","encoding":{}},
{"width":1,"height":1,"data":{"values":[]},"mark":"point","encoding":{}},
{"width":1,"height":1,"data":{"values":[]},"mark":"point","encoding":{}},
{"width":1,"height":1,"data":{"values":[]},"mark":"point","encoding":{}},
{"width":1,"height":1,"data":{"values":[]},"mark":"point","encoding":{}},
{"width":1,"height":1,"data":{"values":[]},"mark":"point","encoding":{}},
{"width":1,"height":1,"data":{"values":[{"t":"15"}]},"mark":{"type":"text","align":"right","baseline":"top","fontSize":8,"fontWeight":"bold","dx":154.5,"dy":-1.5},"encoding":{"text":{"field":"t"}}}
]
}
